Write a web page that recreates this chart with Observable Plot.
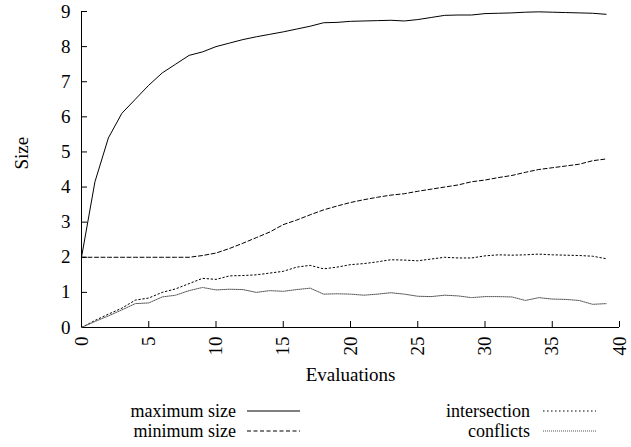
<!DOCTYPE html>
<html><head><meta charset="utf-8">
<script src="https://cdn.jsdelivr.net/npm/d3@7"></script>
<script src="https://cdn.jsdelivr.net/npm/@observablehq/plot@0.6"></script>
<style>
body{margin:0;background:#fff;font-family:"Liberation Serif","Times New Roman","DejaVu Serif",serif;}
#wrap{position:relative;width:631px;height:447px;overflow:hidden;}
#wrap svg text{font-family:"Liberation Serif","Times New Roman","DejaVu Serif",serif;}
.lt{position:absolute;font-size:18px;line-height:20px;height:20px;text-align:right;white-space:nowrap;color:#000;}
.ls{position:absolute;}
</style></head><body><div id="wrap"><div id="chart"></div></div>
<script>
const evaluations = [0,1,2,3,4,5,6,7,8,9,10,11,12,13,14,15,16,17,18,19,20,21,22,23,24,25,26,27,28,29,30,31,32,33,34,35,36,37,38,39];
const maxSize = [2.0,4.15,5.4,6.1,6.5,6.9,7.25,7.5,7.75,7.85,8.0,8.1,8.2,8.28,8.35,8.42,8.5,8.58,8.68,8.69,8.72,8.73,8.74,8.75,8.73,8.77,8.83,8.89,8.9,8.9,8.94,8.95,8.96,8.98,8.99,8.98,8.97,8.96,8.95,8.92];
const minSize = [2,2,2,2,2,2,2,2,2,2.05,2.12,2.25,2.4,2.56,2.72,2.93,3.06,3.21,3.35,3.46,3.56,3.64,3.71,3.77,3.81,3.88,3.94,4.0,4.06,4.15,4.2,4.27,4.33,4.42,4.5,4.55,4.6,4.65,4.75,4.8];
const intersection = [0,0.2,0.38,0.55,0.78,0.84,1.0,1.1,1.25,1.4,1.37,1.47,1.48,1.5,1.55,1.6,1.72,1.77,1.67,1.72,1.79,1.82,1.87,1.93,1.92,1.9,1.95,2.0,1.98,1.98,2.04,2.07,2.06,2.07,2.09,2.07,2.06,2.05,2.03,1.96];
const conflicts = [0,0.17,0.33,0.5,0.68,0.7,0.87,0.92,1.05,1.14,1.07,1.09,1.08,1.0,1.05,1.03,1.08,1.12,0.95,0.96,0.95,0.92,0.95,0.99,0.95,0.89,0.88,0.92,0.9,0.85,0.88,0.88,0.87,0.77,0.85,0.81,0.8,0.77,0.66,0.68];
const seriesNames = ["maximum size","minimum size","intersection","conflicts"];
const xTicks = [0,5,10,15,20,25,30,35,40];
const yTicks = [0,1,2,3,4,5,6,7,8,9];
const xLabel = "Evaluations";
const yLabel = "Size";

const seriesValues = [maxSize, minSize, intersection, conflicts];
const styles = [
  {dash: null, color: "#000"},
  {dash: "4,2.5", color: "#000"},
  {dash: "1.5,2.5", color: "#000"},
  {dash: "1,1", color: "#555"}
];
const rows = seriesNames.map((name, k) => ({name, values: seriesValues[k].map((v, i) => ({x: evaluations[i], y: v}))}));
const FONT = "'Liberation Serif','Times New Roman','DejaVu Serif',serif";

const chart = Plot.plot({
  width: 631, height: 395,
  marginLeft: 81, marginRight: 12, marginTop: 11, marginBottom: 68,
  x: {domain: [0, 40]},
  y: {domain: [0, 9]},
  style: {fontFamily: FONT, fontSize: "19px", background: "white", color: "black", overflow: "visible"},
  marks: [
    Plot.axisX(xTicks, {tickSize: -6, fill: "none", label: null}),
    Plot.axisX(xTicks, {tickSize: 0, tickPadding: 9, tickRotate: -90, label: null}),
    Plot.axisY(yTicks, {tickSize: -6, fill: "none", label: null}),
    Plot.axisY(yTicks, {tickSize: 0, tickPadding: 11, label: null}),
    Plot.text([xLabel], {text: d => d, frameAnchor: "bottom", dy: 53, lineAnchor: "bottom", fontSize: 19}),
    Plot.text([yLabel], {text: d => d, frameAnchor: "left", dx: -60, rotate: -90, fontSize: 19}),
    Plot.ruleX([0]),
    Plot.ruleY([0]),
    ...rows.map((r, k) => Plot.line(r.values, {x: "x", y: "y", stroke: styles[k].color, strokeWidth: 1, strokeDasharray: styles[k].dash}))
  ]
});
const wrap = document.getElementById("wrap");
document.getElementById("chart").appendChild(chart);

// legend
const legendPos = [
  {textRight: 236, lineX: 247, y: 410.5},
  {textRight: 236, lineX: 247, y: 431},
  {textRight: 530, lineX: 543, y: 410.5},
  {textRight: 530, lineX: 543, y: 431}
];
seriesNames.forEach((name, k) => {
  const p = legendPos[k];
  const t = document.createElement("div");
  t.className = "lt";
  t.textContent = name;
  t.style.left = (p.textRight - 300) + "px";
  t.style.width = "300px";
  t.style.top = (p.y - 10) + "px";
  wrap.appendChild(t);
  const s = d3.create("svg").attr("class", "ls").attr("width", 53).attr("height", 6)
    .style("left", p.lineX + "px").style("top", (p.y - 3) + "px");
  s.append("line").attr("x1", 0).attr("x2", 53).attr("y1", 3).attr("y2", 3)
    .attr("stroke", styles[k].color).attr("stroke-width", 1)
    .attr("stroke-dasharray", styles[k].dash);
  wrap.appendChild(s.node());
});
</script></body></html>
